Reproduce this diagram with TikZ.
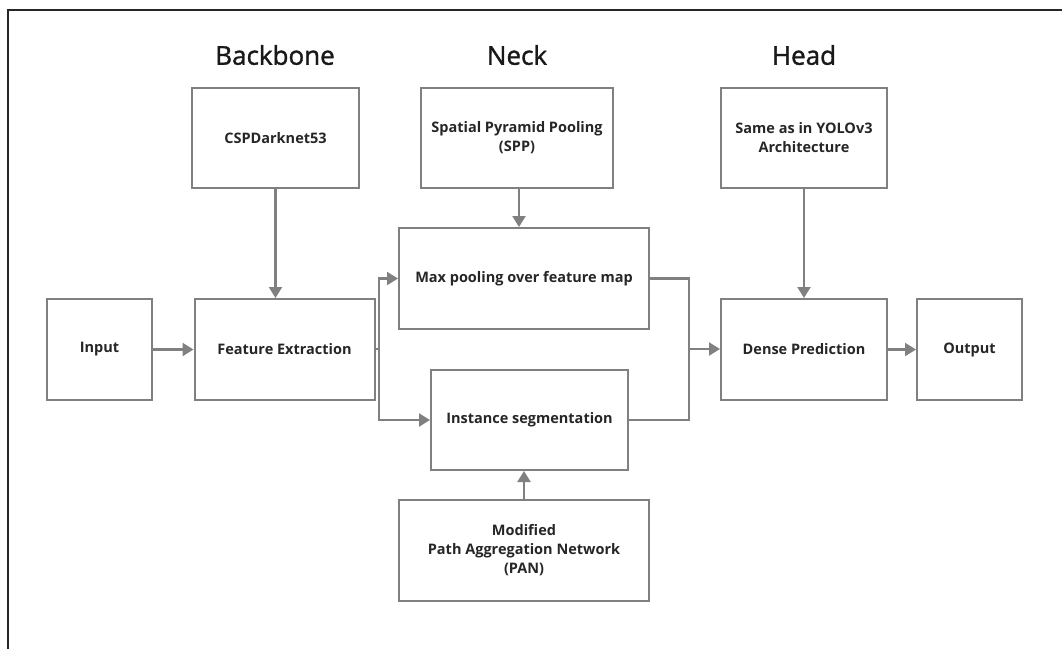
\documentclass[tikz,border=0pt]{standalone}
\usepackage{fontspec}
\setmainfont{Open Sans}
\newfontfamily\ttlfont[BoldFont={Open Sans},BoldFeatures={FakeBold=1.3}]{Open Sans}
\usetikzlibrary{arrows.meta}
\begin{document}
\begin{tikzpicture}[x=1pt,y=-1pt,
  blk/.style={draw=black!50,line width=2pt,fill=white,inner sep=0pt,font=\fontsize{14.5}{19}\selectfont\bfseries,text=black!85,align=center},
  conn/.style={draw=black!50,line width=2.2pt,-{Triangle[length=11pt,width=13pt]}},
  plain/.style={draw=black!50,line width=2.2pt},
  ttl/.style={font=\ttlfont\fontsize{26}{30}\selectfont\bfseries,text=black!90}]
\useasboundingbox (0,0) rectangle (1062,649);
\draw[black!85,line width=2.2pt] (8,649) -- (8,10) -- (1062,10);
% titles
\node[ttl] (tb) at (275,55) {Backbone};
\node[ttl] (tn) at (517,55) {Neck};
\node[ttl] (th) at (804,55) {Head};
% boxes
\node[blk,minimum width=167pt,minimum height=100pt] (csp) at (275.5,138) {CSPDarknet53};
\node[blk,minimum width=192pt,minimum height=100pt] (spp) at (517,138) {Spatial Pyramid Pooling\\(SPP)};
\node[blk,minimum width=166pt,minimum height=100pt] (yolo) at (804,138) {Same as in YOLOv3\\Architecture};
\node[blk,minimum width=105pt,minimum height=101pt] (in) at (99.5,349.5) {Input};
\node[blk,minimum width=180pt,minimum height=101pt] (fe) at (284.5,349.5) {Feature Extraction};
\node[blk,minimum width=250pt,minimum height=101pt] (mp) at (524,278.5) {Max pooling over feature map};
\node[blk,minimum width=197pt,minimum height=100pt] (is) at (529.5,420) {Instance segmentation};
\node[blk,minimum width=250pt,minimum height=101pt] (pan) at (524,550.5) {Modified\\Path Aggregation Network\\(PAN)};
\node[blk,minimum width=166pt,minimum height=101pt] (dp) at (804,349.5) {Dense Prediction};
\node[blk,minimum width=105pt,minimum height=101pt] (out) at (969.5,349.5) {Output};
% connectors
\coordinate (split) at (379,349);
\coordinate (merge) at (689,349);
\coordinate (sppo) at (519,188);
\draw[conn] (csp) -- (csp|-fe.north);
\draw[conn] (sppo) -- (sppo|-mp.north);
\draw[conn] (yolo) -- (yolo|-dp.north);
\draw[conn] (pan.north) -- (pan.north|-is.south);
\draw[conn] (in) -- (fe);
\draw[plain] (fe.east|-split) -- (split);
\draw[conn] (split) |- (mp.west);
\draw[conn] (split) |- (is.west);
\draw[plain] (mp.east) -| (merge);
\draw[plain] (is.east) -| (merge);
\draw[conn] (merge) -- (dp.west|-merge);
\draw[conn] (dp) -- (out);
\end{tikzpicture}
\end{document}
